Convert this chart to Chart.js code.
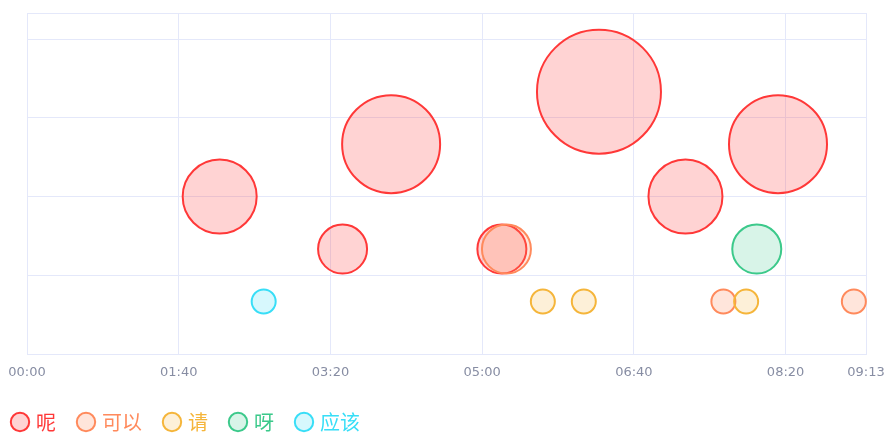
<!DOCTYPE html>
<html>
<head>
<meta charset="utf-8">
<script src="https://cdn.jsdelivr.net/npm/chart.js@4.4.1/dist/chart.umd.min.js"></script>
<style>
  html, body { margin: 0; padding: 0; background: #ffffff; }
  #wrap { width: 885px; height: 434px; }
</style>
</head>
<body>
<div id="wrap"><canvas id="c" width="885" height="434"></canvas></div>
<script>
// Series names and colours
const seriesNames = ['呢', '可以', '请', '呀', '应该'];
const strokeColors = ['#ff3838', '#ff8a5c', '#f5b53a', '#3cc98b', '#38def7'];
const fillColors = ['rgba(255,56,56,0.22)', 'rgba(255,138,92,0.22)', 'rgba(245,181,58,0.2)', 'rgba(60,201,139,0.2)', 'rgba(56,222,247,0.2)'];

// Time positions (seconds), levels and bubble radii per series
const neX = [127, 208, 240, 313, 377, 434, 495];
const neY = [3, 2, 4, 2, 5, 3, 4];
const neR = [37, 24.5, 49, 24.5, 62, 37, 49];

const keyiX = [316, 459, 545];
const keyiY = [2, 1, 1];
const keyiR = [24.5, 12, 12];

const qingX = [340, 367, 474];
const qingY = [1, 1, 1];
const qingR = [12, 12, 12];

const yaX = [481];
const yaY = [2];
const yaR = [24.5];

const yinggaiX = [156];
const yinggaiY = [1];
const yinggaiR = [12];

// Axis ranges
const xMax = 553;      // 09:13
const xStep = 100;     // 01:40
const yMax = 6.5;
const yStep = 1.5;

function toPoints(xs, ys, rs) {
  return xs.map((x, i) => ({ x: x, y: ys[i], r: rs[i] }));
}

function mmss(v) {
  const m = Math.floor(v / 60);
  const s = Math.round(v - m * 60);
  return String(m).padStart(2, '0') + ':' + String(s).padStart(2, '0');
}

const seriesPoints = [
  toPoints(neX, neY, neR),
  toPoints(keyiX, keyiY, keyiR),
  toPoints(qingX, qingY, qingR),
  toPoints(yaX, yaY, yaR),
  toPoints(yinggaiX, yinggaiY, yinggaiR)
];

const datasets = seriesNames.map((name, i) => ({
  label: name,
  data: seriesPoints[i],
  backgroundColor: fillColors[i],
  borderColor: strokeColors[i],
  borderWidth: 2,
  hoverBorderWidth: 2,
  clip: false,
  // later series are painted over earlier ones
  order: seriesNames.length - i
}));

const gridColor = '#e4e8fa';

new Chart(document.getElementById('c'), {
  type: 'bubble',
  data: { datasets: datasets },
  options: {
    responsive: false,
    animation: false,
    devicePixelRatio: 1,
    layout: { autoPadding: false, padding: { top: 13, left: -10, right: 19, bottom: 0 } },
    plugins: {
      tooltip: { enabled: false },
      legend: {
        display: true,
        position: 'bottom',
        align: 'start',
        maxHeight: 46,
        labels: {
          usePointStyle: true,
          boxWidth: 12,
          boxHeight: 13,
          padding: 24,
          font: { family: '"Noto Sans CJK SC", sans-serif', size: 20 },
          generateLabels: (chart) => chart.data.datasets.map((ds, i) => ({
            text: ds.label,
            fillStyle: ds.backgroundColor,
            strokeStyle: ds.borderColor,
            fontColor: ds.borderColor,
            lineWidth: 2,
            pointStyle: 'circle',
            hidden: !chart.isDatasetVisible(i),
            datasetIndex: i
          }))
        }
      }
    },
    scales: {
      x: {
        type: 'linear',
        min: 0,
        max: xMax,
        grid: { color: gridColor, lineWidth: 1, drawTicks: false },
        border: { color: gridColor, width: 1 },
        ticks: {
          stepSize: xStep,
          padding: 11,
          maxRotation: 0,
          autoSkip: false,
          color: '#878da3',
          font: { family: '"DejaVu Sans", sans-serif', size: 13 },
          callback: (v) => mmss(v)
        },
        afterFit: (scale) => {
          scale.height = 34;
          // end labels may overhang the plot edges
          scale.paddingLeft = 0;
          scale.paddingRight = 0;
        }
      },
      y: {
        type: 'linear',
        min: 0,
        max: yMax,
        grid: { color: gridColor, lineWidth: 1, drawTicks: false },
        border: { color: gridColor, width: 1 },
        ticks: { display: false, stepSize: yStep },
        afterFit: (scale) => { scale.width = 37; }
      }
    }
  }
});
</script>
</body>
</html>
